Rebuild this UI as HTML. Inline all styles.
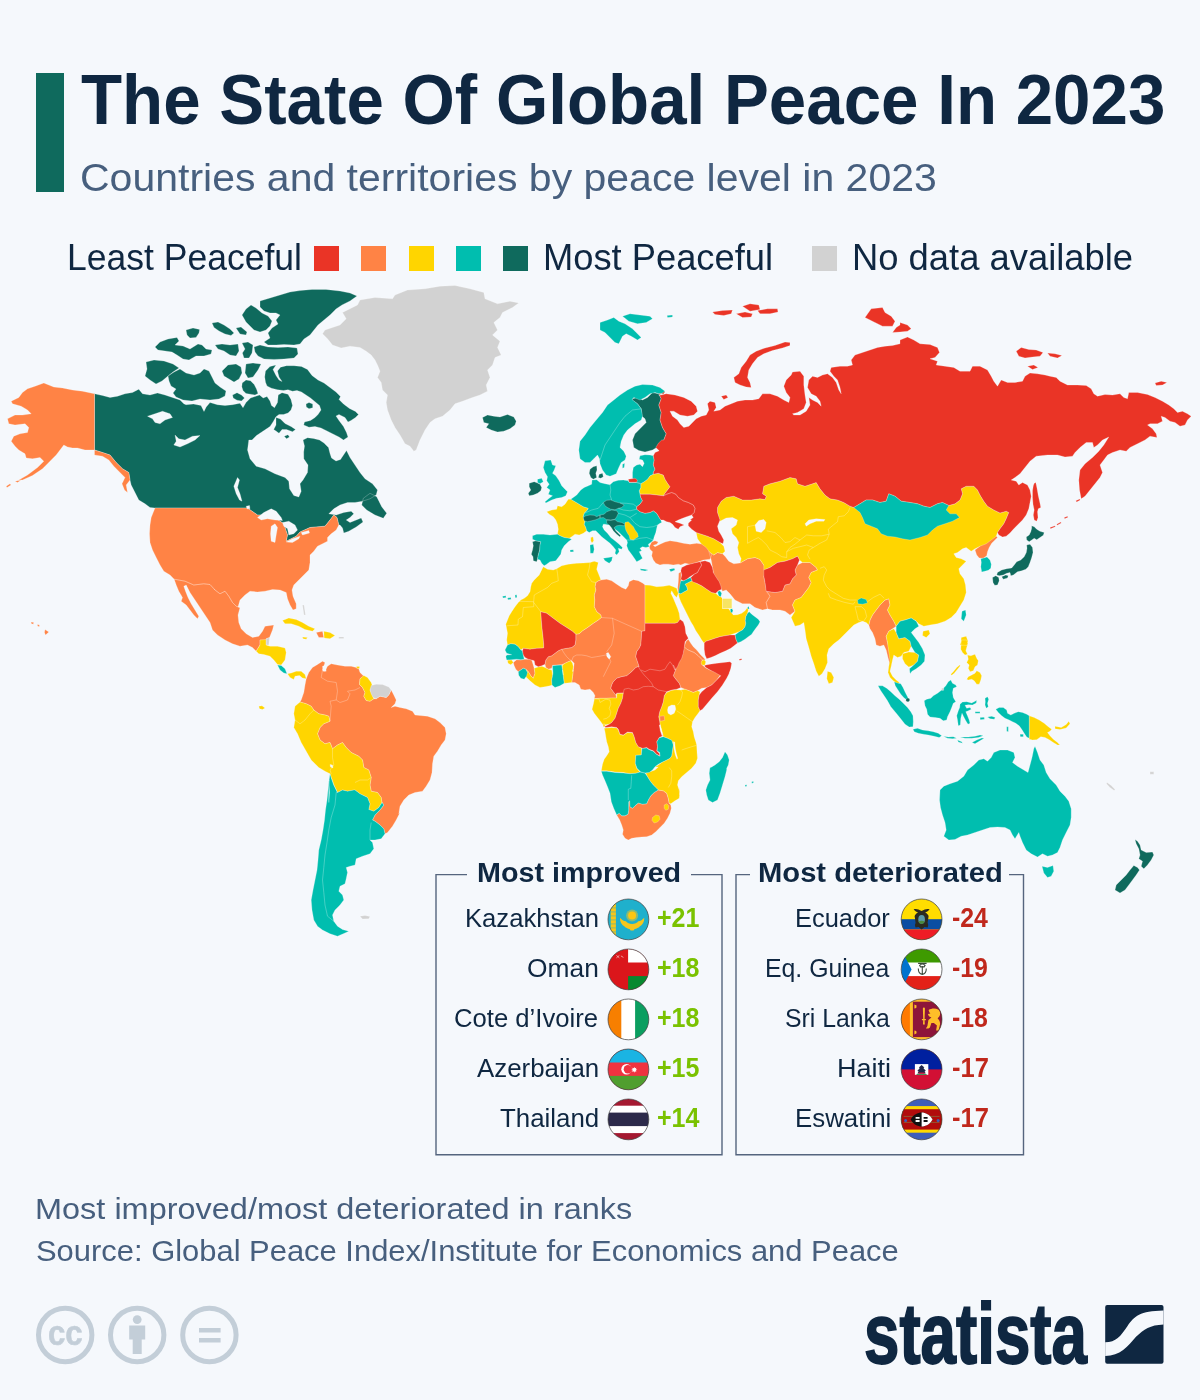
<!DOCTYPE html>
<html lang="en">
<head>
<meta charset="utf-8">
<title>The State Of Global Peace In 2023</title>
<style>
html,body{margin:0;padding:0;background:#f5f8fc;}
body{width:1200px;height:1400px;background:#f5f8fc;position:relative;overflow:hidden;font-family:"Liberation Sans",sans-serif;color:#0f2741;}
.abs{position:absolute;white-space:nowrap;line-height:1;transform-origin:0 0;}
#bar{position:absolute;left:36px;top:73px;width:28px;height:119px;background:#0f6a5d;}
.sq{position:absolute;top:246px;width:25px;height:25px;}
#map,#over{position:absolute;left:0;top:0;width:1200px;height:1400px;}
#logo{-webkit-text-stroke:1.8px #0f2741;}
#cc{-webkit-text-stroke:0.6px #c3ced8;}
</style>
</head>
<body>
<svg id="map" viewBox="0 0 1200 1400">
<g stroke="#ffffff" stroke-opacity="0.4" stroke-width="0.6" stroke-linejoin="round">
<path fill="#0F6A5D" d="M94.5,393.8 102.5,395.5 110,397.5 117.5,396.2 125,393.8 132.5,392.5 138.8,389.2 142.5,393.8 150,395 157.5,393 165,395 172.5,397.5 180,400 183.8,403.8 186,404.7 193.5,404 201,405.5 204,411.5 206.2,407 210,402.5 217.5,404.7 225,405.5 232.5,404.7 240,403.2 243,407.7 246,402.5 250.5,398 255,396.5 259.5,395 263.2,398 267,396.5 270,401 271.5,405.5 274.5,407.7 277.5,402.5 278.2,395 282,392.7 288,394.2 291,399.5 292.5,405.5 291,410 288,413 283.5,414.5 279,414.5 276,416.7 273,422 270,426.5 265.5,429.5 261,432.5 256.5,435.5 252,440 248.8,440 247.5,450 250,458.8 256.2,466.2 265,468.8 275,473.8 285,477.5 288.8,481.2 289.5,488.8 293.8,495.5 298.8,497 301.2,491.2 300,483.8 303,480 307.5,472.5 308,465 303.8,458.8 303.7,452 304.5,446 303,440 307.5,437.7 313.5,438.5 319.5,440 324,443 328.5,447.5 330,453.5 331.5,458 336,461 340.5,459.5 343.5,455 346.5,450.5 350,457.5 355,465 360,472.5 365,478.8 372.5,483.8 377.5,490 376.2,495 370,498.8 362.5,501.2 355,502.5 347.5,502.5 340,505 333.8,508.8 328.8,513.8 336.2,515 343.8,512.5 351.2,511.2 353.8,513.8 350,517.5 346.2,520 350,522.5 355,520.5 361.2,518 363,522 356.2,527 348.8,531.2 343.8,533 342.5,528 340,525 338.8,525 337,517.5 333.8,515 330,520 325,526.2 310,527.5 300,532 296.2,536.2 286.2,541.2 287.5,535 283.8,523.8 271.2,515 257.5,515 247.5,508 200,508 155,508 150,507.5 145,503.8 138.8,500 135,492.5 131.2,485 130,480 128.8,472.5 122.5,468.8 116.2,462.5 110,455 102.5,452.5 94.5,450ZM482.5,417.5 487.5,415 493.8,416.2 500,417 507.5,414.5 513.8,417 516.2,421.2 515,425 510,428.8 503.8,431.2 497.5,432 491.2,430 486.2,427.5 488.8,423.8 483.8,422.5ZM260,301 270,298 280,295 290,292 300,290.6 312,289.4 326,289.4 340,291 350,293 357,296 350,301 342,305 336,309 330,315 324,320 318,325 314,330 310,335 304,339 300,344 294,345 284,344.6 276,345 268,345 264,342 270,338 268,333 272,328 278,324 276,320 280,315 276,313 270,313 264,311 260,307ZM242,315 246,309 251,305 256,308 262,313 268,316 272,321 270,326 266,330 260,332 254,330 250,326 246,322ZM254,347 260,345 268,347 278,347.4 288,347 297,348 298,354 294,358 284,359 274,359.4 264,359 258,356 255,352ZM212,323 218,322 224,325 230,329 234,333 231,335.4 225,334 219,331 214,327.4ZM236,328 241,327 247,332 246,335 240,334ZM186,330 193,328 199.6,329.4 199,333 196,337.4 190,338 187,335ZM155,347 160,342 168,339 177,337.4 179,341 175,345 183,346 190,349 198,344 202,345 206,349 212,350 211,354 204,356 196,356 189,360 183,359 177,355 172,352 165,351 158,350ZM215,345 222,344 230,345 238,344 239,351 236,356 230,355 224,351 218,349ZM242,343 248,342 253,345 252,353 249,358 244,358 242.4,353 245,349ZM146,362 154,360 164,361 173,364 179,368 173,372 168,376 162,381 156,384 150,380 145,376 147,369ZM168,376 174,372 180,369 186,373 194,375 200,373 204,369 209,371 212,377 215,383 220,387 226,391 225,396 219,399 210,400 200,399 192,401 183,400 176,397 173,393 176,389 171,386 169,381ZM222,371 228,365 236,364 241,367 242,373 239,379 234,382 229,379 224,376ZM246,364 253,363 261,364 258,370 253,377 248,378 245,373ZM363.3,498.3 370,493.3 376.7,496.7 381.7,506.7 386.7,513.3 383.3,518.3 375,515 366.7,510 361.7,505ZM264.7,377 265.5,371 270,366.5 276,365 273,369.5 276,375.5 279,380 282,381.5 279,377 277.5,371 280.5,367.2 286.5,365.7 294,365.7 301.5,366.5 307.5,369.5 312,375.5 318,380 324,383 330,387.5 336,392 340.5,396.5 339,399.5 343.5,404 349.5,408.5 355.5,411.5 358.5,414.5 355.5,417.5 351,420.5 348,422 345,417.5 339,414.5 336,416 339,420.5 343.5,426.5 346.5,432.5 348,437 343.5,440 339,437 333,434 327,431 321,428 315,426.5 309,427.2 303.7,425 304.5,422 310.5,420.5 315,417.5 318,414.5 321,410 319.5,405.5 315,401.7 310.5,398 306,395 301.5,392 297,390.5 292.5,391.2 288,389.7 283.5,390.5 277.5,389.7 271.5,388.2 267,386 265.5,382.2ZM306,404 309,402.5 312.7,404 312.7,407.7 309,408.8 306.3,407ZM276,417.5 280.5,419 285,423.5 291,426.5 295.5,429.5 292.5,431.7 286.5,429.5 282,429.5 279,433.2 276,431 273.7,429.5 276,425ZM284.2,436.2 288,434.7 289.5,437 286.5,438.8ZM232.5,395 237,392.7 241.5,395 244.5,398 241.5,401 237,400.2 233.2,398ZM242.2,383 246,380 250.5,380.7 254.2,384.5 256.5,389 258,393.5 255,395 250.5,394.2 246,393.5 243,390.5 241.8,386.7ZM632.5,398.8 637.5,397.5 642.5,400 647.5,397.5 652.5,392.5 658.8,393.8 661.2,398.8 658.8,405 661.2,412.5 660,420 662.5,427.5 666.2,433.8 663.8,440 658.8,446.2 652.5,450 645,452 638.8,450.5 633.8,447.5 632.5,440 635,433.8 641.2,427.5 646.2,422.5 645,418.8 642,416.2 641.2,408.8 637.5,403.8 632,400ZM590,469.2 593.3,466.7 596.7,465.8 597,470 595.8,473.3 596.7,477.5 593.3,479.2 590.8,477.5 589.2,473.3ZM599.2,474.2 602.5,473.3 603.3,476.7 600.8,478.3 598.3,477.5ZM529.2,483.3 534.2,481.7 537.5,483 540,484.2 541.7,487.5 540.8,490.8 537.5,493.3 533.3,495 529.2,495.8 528.3,493.3 530.8,490 529.2,486.7ZM532.5,541.7 535.8,540.8 540.8,541.7 540,545 539.7,550 538.3,555 537.5,559.2 536.7,561.7 533.3,560.8 533,556.7 531.3,554.2 532.5,550 533.3,545.8ZM1031.7,525.8 1034.2,526.7 1036.7,529.2 1040,531.3 1044.2,532.5 1043.3,535.3 1040,537.5 1036.7,539.7 1034.2,538.3 1031.7,540 1029.2,541.7 1026.7,540 1026.3,537 1029.2,535 1030.8,531.7 1031.7,528.3ZM1026.7,545 1030,544.2 1032.5,547.5 1033,552.5 1031.7,557.5 1030,562.5 1028.3,566.7 1025.8,569.2 1021.7,570.8 1017.5,571.7 1013.3,575 1010.8,575.8 1010,572.5 1006.7,573.3 1003.3,575 999.2,575.8 996.7,575 997.5,572.5 1001.7,570 1006.7,568.7 1011.7,568 1014.2,565 1016.7,561.7 1020.8,560 1024.2,556.7 1026.3,552.5 1027,548.3ZM992.5,577.5 995.8,575.8 998.7,577.5 999.2,580.8 997.5,585 994.7,585.3 993,582.5ZM1001.7,576.7 1005.8,575 1008.3,575.8 1007.5,578 1003.3,579.2ZM1135,839.5 1137.5,841.2 1140,845 1141.2,850 1146.2,852.5 1152.5,852 1153.8,855 1151.2,860 1147.5,865 1143.8,868.8 1141.2,866.2 1142.5,861.2 1138.8,858.8 1140,855 1138.8,848.8 1136.2,843.8ZM1133.8,865.5 1137.5,867.5 1139.5,870 1136.2,875 1132.5,880 1128.8,885 1125,890 1120,893 1115,890 1116.2,885 1121.2,880 1126.2,875 1130,870Z"/>
<path fill="#FF8345" d="M94.5,393.8 82.5,391.2 72.5,390 62.5,388 53.8,387 43.8,383 35,386.2 27.5,388.8 22.5,392.5 18.8,397.5 11.2,401.2 12.5,403.8 21.2,406.2 27.5,410 31.2,413.8 22.5,415 15,415 7.5,418.8 8.8,423.8 15,425 25,423.8 28.8,427.5 27.5,432.5 20,433.8 13.8,436.2 11.2,441.2 15,446.2 18.8,450 25,453.8 26.2,458 32.5,458.8 40,457.5 43.8,461.2 37.5,467.5 27.5,475 18.8,480 22.5,480 32.5,475.5 42.5,468.8 50,461.2 56.2,455 60,450 63.8,445 67.5,447 72.5,448 77.5,448 85,450 94.5,450 102.5,452.5 110,455 116.2,462.5 122.5,468.8 128.8,472.5 130,480 126.2,485 127.5,492.5 124.5,490 122,483.8 123.8,480 125,477.5 120,472.5 113.8,466.2 108.8,460 102.5,456.2 94.5,455 94.5,450ZM155,508 151.2,517.5 150,525 149.5,533.8 150,542.5 152.5,550 156.2,557.5 160,565 163.8,571.2 170,575 174.2,579.2 185,581.2 193.8,585 203.8,583.8 210,584.5 215,590 220,593.8 225,591.2 228.8,596.2 232.5,602.5 236.2,606.2 240,607.5 238,607 240,600 245,595 250,591.2 257.5,592 265,591.2 272.5,589.5 280,590 286.2,592.5 287.5,598.8 290,605 293,610 296.2,608.8 296.2,603.8 293,596.2 292,590 293.8,585 298.8,580 303.8,575 308.8,570 310,562.5 310,555 313.8,551.2 317.5,546.2 322.5,543.8 327.5,541.2 327.5,537.5 331.2,533.8 336.2,530 338.8,525 337,517.5 333.8,515 330,520 325,526.2 310,527.5 300,532 296.2,536.2 286.2,541.2 287.5,535 283.8,523.8 271.2,515 257.5,515 247.5,508 200,508ZM174.2,579.2 185,581.2 193.8,585 203.8,583.8 210,584.5 215,590 220,593.8 225,591.2 228.8,596.2 232.5,602.5 236.2,606.2 240,607.5 238,615 238.8,622.5 241.2,628.8 246.2,633.8 252.5,637.5 258.8,636.2 262.5,631.2 265,626.2 273.8,625 272.5,630 269.5,637.5 266.2,638.8 266.2,640 260,640 260,645 256.2,651.2 252.5,647.5 247.5,645 240,646.2 232.5,643.8 225,640 217.5,635 212.5,630 210,622.5 205,615 200,607.5 195,600 190,592.5 186.2,585 183.8,586.2 185.5,591.2 188,597.5 191.2,603.8 195,610 198.8,616.2 197.5,618.8 193.8,615 190,610 186.2,605 181.2,601.2 182.5,597.5 178.8,591.2 176.2,585ZM316.2,632.5 322.5,631.2 323.8,637.5 318.8,637.5ZM31.2,622 33.8,622.5 33.2,624.2 31.2,623.5ZM37.5,624.5 39.5,625 39.2,626.8 37.5,626ZM45,629.5 48.8,632 45.5,635 44.5,632.5ZM6.2,486.2 10,483.8 11,485 7,487.5ZM15,481.2 21.2,480 17.5,482.5ZM306.2,678.8 308.8,672.5 312.5,667.5 317.5,664.5 322.5,661.2 325,662.5 323.8,666.2 322.5,670 325,671.2 327.5,666.2 331.2,663.8 337.5,665 345,666.2 351.2,666.2 356.2,667.5 358.8,668.8 360,672.5 363.8,676.2 360,678.8 359.5,684.5 362.5,687.5 365,692.5 363.8,696.2 366.2,700.5 370,701.2 373.8,698.8 376.2,698.8 380,696.2 386.2,697.5 388.8,695 391.2,690 393.8,695 396.2,700 395,703.8 391.2,707.5 395,706.2 400,707.5 406.2,708.8 412.5,711.2 415,715 420,715.5 427.5,716.2 435,718.8 440,722.5 445,727.5 446.2,733.8 445,740 441.2,745 437.5,751.2 433.8,756.2 432.5,763.8 432,772.5 430,780 426.2,786.2 422.5,791.2 415,792.5 408.8,795 403.8,800 400,806.2 398.8,813.8 400,812.5 396.2,820 392.5,826.2 387.5,832.5 385,833.8 383.8,828.8 380,825 375,821.2 372.5,820 375,815 380,810 383.8,805 382,802.5 382,803.8 381.2,797.5 377.5,792.5 371.2,791.2 370,785 371.2,777.5 368.8,770 363.8,767.5 362.5,760 358.8,756.2 351.2,752.5 346.2,747.5 342.5,742.5 337.5,745 332.5,748.8 330,742.5 325,743.8 320,740 317.5,733.8 320,727.5 323.8,723.8 330,721.2 328.8,716.2 325,715 318.8,713.8 313.8,710 311.2,706.2 306.2,703.8 300,702 301.2,700 303.8,692.5 305,685ZM649.2,546.7 651.7,542 655,540.8 658.3,542 656.7,544.2 653.3,545.3 655,546.7 660,544.2 665,542 670,540.8 676.7,541.7 683.3,543.3 690,544.2 696.7,543.3 703.3,544.2 708.3,547.5 710,551.7 711.7,555 710,559.2 703.3,560 696.7,562.5 690,564.2 685,563.3 680.8,565 678.3,564.2 673.3,565 668.3,564.2 663.3,564.2 660,565 655.8,563.3 653.3,560 651.7,555.8 652.5,551.7 650,549.2ZM708.8,551.2 713.8,555 717.5,552.5 722.5,553.8 725,556.2 728.8,561.2 733.8,563.8 740,563 747.5,558.8 755,557.5 760,559.5 763.8,565 766.2,570 763.8,576.2 765,582.5 766.2,590 770,596.2 766.2,602.5 767.5,608.8 762.5,610 755,607.5 750,603.8 742.5,603.8 735,600 730,593.8 726.2,590 722.5,591.2 720,586.2 717.5,580 713.8,575 712.5,567.5 711.2,560ZM766.2,591.2 775,592.5 782.5,591.2 785,585 790,583.8 792.5,578.8 796.2,575 795,570 797.5,565 802.5,562.5 810,562.5 816.2,567.5 817.5,570 811.2,572.5 808.8,577.5 811.2,582.5 808.8,587.5 805,592.5 801.2,597.5 795,600 792.5,605 795,611.2 790,615 785,611.2 780,610 772.5,610 767.5,608.8 766.2,602.5 770,596.2ZM975,550 979.2,546.7 983.3,543.3 987.5,541.7 991.7,538.3 995.8,535.8 997.5,537.5 995,540 991.7,543.3 989.2,547.5 987.5,551.7 986.7,555.8 983.3,558.3 979.2,558 976.7,555ZM868.8,625 870,620 872.5,615 876.2,610 880,605 885,600 888.8,598.8 890,605 887.5,610 890,615 893.8,621.2 896.2,626.2 892.5,628.8 888.8,631.2 886.2,636.2 887.5,642.5 888.8,648.8 890,655 891.2,662.5 890,665 888,657.5 886.2,650 883.8,645 880,646.2 876.2,645 875,638.8 872.5,632.5 870,628.8ZM678.7,573.3 681,571.7 681.3,579.2 680.7,583.7 679.7,588.7 678.3,593 677.7,588.3 678.3,581.7ZM513.3,662.5 516.7,659.7 520.8,660 524.2,659.2 528.3,659.2 531.7,660 533,664.2 534.2,668.3 535,673.3 533.3,678.3 530.8,675.8 528.3,671.7 525.8,669.2 523.3,668.3 520.8,670 518.3,671.7 515.8,669.2 514.2,665.8ZM600.8,580 606.7,579.2 611.7,580.8 616.7,584.2 621.7,587.5 625.8,589.2 628.3,585.8 629.2,581.7 633.3,579.7 638.3,580.8 642.5,583 645,585 645,623.3 645,630.8 641.7,631.3 641.3,638.3 640.8,645 639.2,648.3 636.7,651.7 635.8,656.7 637.5,661.7 639.2,666.7 638.3,666.7 635.8,667.5 631.7,671.7 626.7,675.8 621.7,676.7 616.7,678.3 613.3,681.7 611.7,685 610.8,688.3 613.3,691.7 615.8,695 616.7,698 611.7,698 606.7,698.3 600,698.3 594.2,698.7 595,695.8 593.3,692.5 590,689.2 585,690 580.8,689.2 579.2,685 575,682.5 571.7,682.5 572.5,676.7 573.3,670 574.2,663.3 571.7,660.8 570.8,660.8 568.3,661.7 565,663.3 561.7,664.7 556.7,665 552.5,665.3 551.7,668.3 548.3,669.2 545.8,667.5 545,664.2 545.8,660 548.3,656.7 551.7,655.8 555,653.3 558.3,650.8 561.7,649.2 566.7,648.3 571.7,647.5 575,645 575.8,640 575.8,634.2 579.2,633.7 582.5,630.8 587.5,627.5 593.3,623.3 598.3,620 601.3,617.5 600.8,615 596.7,611.7 594.2,606.7 594.7,600 594.2,595 595.8,590 595,586.7 595.8,582.5 598.3,580.8ZM684.2,646.7 685.8,641.7 688.3,639.2 690.8,643.3 693.3,646.7 696.7,650 700.8,655 704.2,658.3 705.3,660 702.5,660 698.3,655.8 694.2,652.5 690,650.8 686.7,649.2ZM683.3,651.7 684.2,646.7 686.7,649.2 690,650.8 694.2,652.5 698.3,655.8 702.5,660 701.7,664.2 705,667.5 710,670 716.7,672.5 721.7,673.3 716.7,680 711.7,685 706.7,687.5 701.7,688.3 697.5,690.8 693.3,692.5 689.2,690.8 685,689.2 680.8,687.5 679.2,683.3 675.8,679.2 673.3,675.8 674.2,673.3 675.8,669.2 673.3,665 675,668.3 677.5,664.2 679.2,660 681.7,656.7ZM616.7,815 619.2,813.3 621.7,815.8 625,815.8 628,814.2 628.7,810 628.7,801.7 629.7,800.8 630,806.7 632.5,808.3 635,805.8 638.3,803 642.5,804.2 646.7,803.7 648.3,800 650.8,795.8 654.2,792.5 658.3,790 663.3,790.8 666.7,793.3 668.3,798.3 669.2,803.3 670.8,805 671.3,808.3 670,813.3 667.5,818.3 664.2,823.3 660,827.5 655.8,831.7 651.7,835 646.7,836.7 641.7,837 636.7,837.5 631.7,838.3 628.3,840 625,838.3 622.5,834.2 623.3,830 621.7,825 619.7,820Z"/>
<path fill="#FFD500" d="M256.2,651.2 260,645 260,640 266.2,639.5 266.2,645 270,646.2 277.5,646.2 285,648 286.2,652.5 285,660 281.2,665 277.5,664.5 273.8,660 270,656.2 263.8,654.5 258.8,653.8ZM282.5,620.5 288.8,618 296.2,619.5 302.5,622.5 308.8,626.2 315,628.8 312.5,631.2 305,629.5 298.8,626.2 291.2,623.8 285,623.8ZM323.8,631.2 330,632.5 335,635.5 330,638.8 324.2,638ZM302.5,637 307.5,637.5 306.2,639.2 303,638.8ZM287.5,673.8 291.2,673 296.2,671.2 301.2,671.2 305,674.5 306.2,678.8 302.5,678 299.5,675.5 295,676.2 293.8,679.5 290,677.5ZM360,678.8 363.8,675.5 367.5,677.5 371.2,682.5 372.5,686.2 370,690 372.5,695 373.8,698.8 370,701.2 366.2,700.5 363.8,696.2 365,692.5 362.5,687.5 359.5,684.5ZM300,702 306.2,703.8 311.2,706.2 313.8,710 318.8,713.8 325,715 328.8,716.2 330,721.2 323.8,723.8 320,727.5 317.5,733.8 320,740 325,743.8 330,742.5 332.5,748.8 337.5,745 342.5,742.5 346.2,747.5 351.2,752.5 358.8,756.2 362.5,760 363.8,767.5 368.8,770 371.2,777.5 370,785 371.2,791.2 377.5,792.5 381.2,797.5 382,803.8 382,802.5 378.8,807.5 373.8,811.2 368.8,809.5 370,803.8 367.5,797.5 360,793.8 355,790 347.5,791.2 342.5,790 337.5,792.5 333.8,785 331.2,777.5 330,773.8 325,771.2 318.8,767.5 311.2,760 306.2,751.2 301.2,742.5 297.5,733.8 293.8,727.5 295,720 293.8,713.8 295,706.2ZM258.8,706.2 262,705.8 265,708 262.5,709.5 259.5,708.8ZM356.5,666.5 359.5,666.5 359.5,668.5 356.8,668.5ZM590.8,537.5 593,536.7 593.7,540.8 592,543 590.8,540.8ZM640.8,483.7 644.2,481.7 647.5,479.2 650,475.8 653.3,474.2 658.3,473.3 663.3,475 665,479.2 667.5,483.3 670,486.7 667.5,490 665,493.3 663.3,495.8 656.7,495 650,494.2 644.2,494.2 640,494.2 639.2,490.8 640.8,487.5ZM546.7,511.7 551.7,510 556.7,509.2 557.5,505.8 561.7,506.7 565,504.2 568.3,499.2 570.8,499.2 575,501.7 579.2,504.2 583.3,506.7 588.3,508.3 587.5,510 584.2,513.3 583.3,516.7 584.2,520 585,521.7 584.2,524.2 585.8,527.5 586.7,530.8 583.3,533.3 579.2,535 575,534.2 571.7,536.7 569.2,538.3 564.2,537.5 560,535.8 557.5,534.2 558.3,529.2 557.5,524.2 555.8,520 553.3,516.7 549.2,514.2ZM717.5,507.5 721.2,501.2 726.2,497.5 733.8,496.2 742.5,500 751.2,500 760,498.8 765,499.5 766.2,496.2 762.5,493.8 763.8,486.2 770,483.8 780,481.2 790,477.5 796.2,478.8 797.5,483.8 805,486.2 812.5,483.8 816.2,482.5 820,488.8 825,495 830,498.8 837.5,500 843.8,502.5 850,506.2 853.8,507.5 860,503.8 866.2,500 872.5,500 880,502.5 886.2,501.2 888.8,493.8 895,496.2 901.2,501.2 910,502.5 917.5,503.8 923.8,506.2 930,507.5 937.5,503.8 942.5,502.5 948.8,505.5 948.8,505.5 955,503.8 960,500 962.5,493.8 961.2,488.8 966.2,486.2 973.8,486.2 977.5,490 980,495 983.8,501.2 987.5,506.2 993.8,510 1000,513 1006.2,511.2 1008.8,512.5 1006.2,518.8 1003.8,523.8 1000,528.8 997.5,532.5 996.2,536.2 991.2,540 986.2,543.8 980,546.2 975,548.8 971.2,551.2 966.2,547.5 962.5,548.8 957.5,552.5 953.8,553.8 956.2,557.5 961.2,558.8 966.2,561.2 962.5,565 958.8,568.8 960,573.8 963.8,578.8 965.5,585 966.2,592.5 963.8,600 960,606.2 956.2,612.5 951.2,617.5 945,621.2 937.5,623.8 930,625 923.8,626.2 918.8,623.8 915,620 918.8,626.2 916.2,621.2 911.2,618 905,620 900,621.2 896.2,626.2 893.8,621.2 890,615 887.5,610 890,605 888.8,598.8 885,600 880,605 876.2,610 872.5,615 870,620 868.8,625 866.2,622.5 862.5,621.2 858.8,622.5 853.8,625 848.8,630 843.8,635 838.8,640 833.8,643.8 828.8,648.8 827,655 827.5,662.5 825,668.8 822,673.8 818.8,676.2 816.2,671.2 813.8,663.8 811.2,656.2 808.8,647.5 806.2,638.8 805,630 803.8,622.5 800,625 795,626.2 791.2,617.5 795,611.2 792.5,605 795,600 801.2,597.5 805,592.5 808.8,587.5 811.2,582.5 808.8,577.5 811.2,572.5 817.5,570 816.2,567.5 810,562.5 802.5,562.5 799.5,560 797.5,556.2 792.5,558.8 785,561.2 777.5,562.5 770,567.5 763.8,570 763.8,565 760,559.5 755,557.5 747.5,558.8 740,563 741.2,558.8 738.8,553.8 737.5,547.5 738.8,542.5 736.2,537.5 732.5,533.8 731.2,528.8 736.2,525 737.5,520 732.5,517.5 726.2,518 720,521.2 717.5,512.5ZM696.2,532.5 700,533.8 707.5,536.2 713.8,538.8 720,542.5 723.8,546.2 725,551.2 722.5,553.8 717.5,552.5 713.8,555 710,552.5 706.2,547.5 701.2,543.8 697.5,538.8ZM923,631.2 928.8,630 930,633.8 926.2,637.5 922.5,635.5ZM827.5,671.2 831.2,672.5 833.8,677.5 832.5,682.5 828.8,683.8 826.8,678.8ZM888.8,631.2 893.8,628.8 896.2,632.5 898.8,638.8 905,637.5 910,641.2 911.2,646.2 908.8,651.2 903.8,652.5 901.2,656.2 897.5,657.5 893.8,655 892.5,660 891.2,666.2 890,671.2 892.5,676.2 896.2,680 899.5,682.5 897.5,683.8 893.8,681.2 890,677.5 888,672.5 888.8,666.2 890,660 888.8,652.5 887.5,642.5 886.2,636.2ZM902.5,653.8 908.8,652 915,652.5 918.8,655 917.5,661.2 913.8,665 908.8,667 905,663.8 902.5,658.8ZM1029.2,715.8 1034.2,717.5 1039.2,720 1044.2,723.3 1048.3,726.7 1051.7,729.2 1050,731.3 1047.5,732.5 1050,735.8 1053.3,739.2 1057.5,742.5 1060,745 1057.5,745 1053.3,742.5 1049.2,739.7 1045,737.5 1040.8,736.7 1036.7,739.7 1032.5,740 1029.2,739.2ZM1055,726.2 1061.2,727.5 1066.2,724.5 1068.8,721.2 1070,723.8 1066.2,728 1060,729.5 1055,728.8ZM960,645 961.7,640 966.7,640 968,643.3 966.7,647.5 965.8,650.8 967.5,654.2 965,655 962.5,652.5 960.8,649.2 961.2,637.5 966.2,636.2 968,641.2 967,645.5ZM967.5,655 970.8,655.8 975,654.2 976.7,658.3 978.3,660.8 977.5,665 975,666.7 973.3,670.8 970,671.7 968.3,668.3 969.2,665 966.7,662.5 968.3,659.2ZM966.7,679.2 968.3,676.7 971.7,675 975,673.3 976.7,670.8 980,672.5 981.7,675.8 980.8,680 979.2,684.2 976.7,684.2 974.2,680.8 971.7,679.2 968.3,680ZM950.8,674.2 953.3,671.7 956.7,667.5 959.7,665 960.3,665.8 957.5,669.2 954.2,673.3 951.7,675.3ZM678.3,593.3 680.8,593.7 684.2,591.7 687.5,590 686.7,586.7 685,584.2 688.3,582.5 692,580.8 696.7,583.3 701.7,585.8 706.7,589.2 711.7,592.5 715.8,593.3 718.3,595.8 720.8,596.7 723.3,599.2 725.8,603.3 728.3,608.3 730.8,611.7 733.3,615 737.5,614.7 741.7,613.3 745,610.8 747.5,607.5 748.3,610 747.5,613.3 745.8,616.7 745.3,620.8 745.8,623.3 745,626.7 742.5,630 739.2,631.7 735,633.3 730,635 725,635.8 720,636.7 715,638.3 710,640 705.8,641.3 704.2,643.3 701.7,640 699.2,635.8 695.8,630.8 693.3,625.8 690.8,621.7 688.3,616.7 685.8,611.7 683.3,606.7 680.8,601.7 679.2,597.5ZM543.3,566.7 547.5,569.2 553.3,570 556.7,568.7 561.7,565.8 568.3,564.2 576.7,563.3 583.3,563 590,562.5 594.2,561.3 598.3,562.5 597.5,565.8 596.7,569.2 598.3,573.3 600,577.5 600.8,580 598.3,580.8 595.8,582.5 595,586.7 595.8,590 594.2,595 594.7,600 594.2,606.7 596.7,611.7 600.8,615 601.3,617.5 598.3,620 593.3,623.3 587.5,627.5 582.5,630.8 579.2,633.7 575.8,634.2 572.5,631.3 566.7,627.5 560,623.3 553.3,618.3 546.7,613.3 540.8,611.7 541.3,620 542,628.3 543,636.7 543.7,644.2 543.7,648 536.7,648.3 530,649.2 523.3,648.3 520.8,650 518.3,646.7 515,644.2 510.8,643.7 507.5,645 506.7,640 507.5,633.3 506.3,626.7 505.8,624.2 507.5,620 509.2,615.8 511.7,611.7 515,606.7 518.3,602.5 520.8,600 524.2,598.3 527.5,595.8 530,591.7 530.8,586.7 531.7,583.3 534.2,580 536.7,577.5 539.2,575 540.8,571.7 542.5,568.3ZM507.5,660.3 511.7,660 513.3,662.5 510.8,664.7 508,663.3ZM527.5,672.5 525.8,669.2 528.3,671.7 530.8,675.8 533.3,678.3 535,673.3 534.2,668.3 538.3,667 541.7,666.3 545,667.5 548.3,669.2 551.7,670 552.5,675 552.5,669.2 553,673.3 551.7,680 552,685 550,685.8 545,686.7 540,687.5 535,685 530,680.8 525.8,676.7 523.3,673.3ZM562.5,665 565,663.3 568.3,661.7 570.8,660.8 572.5,663.3 573.3,666.7 572.5,671.7 573.3,670 572.5,676.7 571.7,682.5 565,683.3 564.2,683.3 563.3,676.7 562.5,670 562.2,666.7ZM645,585 650,585.3 656.7,586.7 663.3,586.3 669.2,585.3 673.3,586.7 676.7,588.3 678.3,593.3 676.7,597.5 674.2,595 671.7,590.8 670.8,593.3 673.3,598.3 675.8,604.2 677.5,608.3 679.2,613.3 680,619.2 677.5,622.5 675,623.3 645,623.3ZM701.7,660.8 704.2,659.7 705.8,661.7 705,665 702.5,665.3 701.2,663.3ZM594.2,698.7 600,698.3 606.7,698.3 611.7,698 616.7,698 616.7,693.3 623.3,693 622.5,698.3 620.8,703.3 618.3,708.3 616.7,713.3 615,718.3 611.7,722.5 609.2,724.2 604.2,725 603,725 600.8,721.7 597.5,717.5 594.2,713.3 592,709.2 593.3,704.2 594.2,700ZM664.2,695.8 666.7,692.5 671.7,690.3 676.7,689.7 680.8,690 685,689.2 689.2,690.8 693.3,692.5 697.5,690.8 700,691.7 699.2,695 698.3,700 698.3,706.7 700,710.8 697.5,714.2 695,717.5 692.5,721.7 691.7,726.7 693.3,731.7 694.2,736.7 695.8,741.7 696.7,745 697,751.7 697.5,758.3 695.8,763.3 691.7,768.3 686.7,772.5 681.7,776.7 678.3,780.8 677.5,785 679.2,790 679.7,795 679.2,786.7 680,791.7 679.2,798.3 675,800.8 670.8,803.7 669.2,803.3 668.3,798.3 666.7,793.3 663.3,790.8 658.3,790 656.7,788.3 653.3,785 650,780.8 647.5,776.7 645.8,773.3 650,771.7 655,770 658.3,767 655,767 658.7,764.7 662.5,762 666.7,760 670,758.3 671.7,755.8 672.5,750 673.3,745 671.7,740.3 667.5,738.3 663.3,736.7 663,735.8 661.7,731.7 660.3,726.7 659.7,721.7 658.7,716.7 659.7,711.7 661.7,706.7 663.3,701.7ZM604.2,728.3 611.7,727.5 616.7,728 618.3,730 620,734.7 623.3,735.3 627.5,732.5 632.5,733 634.2,736.7 635.8,742.5 638.3,746.7 641.7,748.3 641.3,755 635.8,755.3 635.3,763.3 636.7,768.3 640,772 635.8,773.3 630,773.7 623.3,772.5 615,772 606.7,770.8 601.3,770.8 602.5,764.2 604.2,759.2 606.7,755.8 609.2,751.7 608.3,746.7 606.7,741.7 605.8,736.7 605,731.7ZM602.7,724 605,724 605.3,726.3 603.3,726.7Z"/>
<path fill="#D2D2D2" d="M266.2,638.8 269.5,637.5 268.8,645 266.2,645ZM338.8,637 343.8,637 343.8,638.5 338.8,638.5ZM302.5,605 304,605 305.5,615 304,615ZM360,300 375,297.5 392.5,298.8 395,295 407.5,290 425,288.8 440,286.2 455,285.5 470,288.8 483.8,292.5 485,298.8 497.5,303.8 510,301.2 518.8,303 512.5,307.5 502.5,312.5 500,317.5 493.8,322.5 497.5,330 492.5,335 500,341.2 497.5,347.5 501.2,355 495,357.5 492.5,365 487.5,370 490,377.5 486.2,385 487.5,391.2 480,395 472.5,397.5 462.5,401.2 455,403.8 450,410 442.5,416.2 435,418.8 430,422.5 425,430 420,440 416.2,450 413.8,451.2 410,446.2 405,443.8 400,435 395,427.5 391.2,420 387.5,410 386.2,402.5 387.5,395 382.5,390 381.2,382.5 377.5,377.5 380,371.2 377.5,365 375,360 371.2,355 366.2,351.2 360,347.5 350,346.2 341.2,348 332.5,345 327.5,338.8 322.5,333.8 325,330 332.5,327.5 340,325 346.2,318.8 342.5,312.5 350,308.8 357.5,305ZM371.2,685.5 376.2,684.2 382.5,684.5 388.8,687 391.2,690 388.8,695 386.2,697.5 380,696.2 376.2,698.8 373,697.5 371.2,693.8 370,690ZM360,916.2 365,915.5 370,916.5 368.8,918.8 362.5,919ZM1107,782.5 1111.2,785.5 1115,789.5 1114.2,790.5 1110,787.5 1106.5,783.8ZM1150,771.8 1153.8,771.8 1153.8,774.2 1150,774.2Z"/>
<path fill="#00BEAF" d="M277.5,665 281.2,665.5 285,668.8 287,673.8 283.8,673 280,670ZM330,773.8 331.2,777.5 333.8,785 337.5,792.5 342.5,790 347.5,791.2 353.8,790 355,790 360,793.8 367.5,797.5 370,803.8 368.8,809.5 373.8,811.2 378.8,807.5 382,802.5 383.8,805 380,810 375,815 372.5,820 375,821.2 380,825 383.8,828.8 385,833.8 381.2,838.8 375,840 370,840 372.5,842.5 373.8,848.8 370,853.8 362.5,856.2 356.2,858.8 355,865 350,866.2 346.2,867.5 347.5,872.5 346.2,878.8 345,883.8 340,886.2 338.8,891.2 342.5,895 343.8,900 340,905 335,910 332.5,915 333.8,921.2 337.5,926.2 342.5,929.5 348.8,931.2 345,933 337.5,936.2 330,933.8 322.5,930 317.5,926.2 313.8,920 312,910 311.2,900 313,890 315,880 317,870 318,860 318.8,850 321.2,840 323,830 324.5,820 325.5,810 327,800 328,790 329,780 328.8,802.5 329.5,792.5 328.8,782.5ZM580,458.8 578.8,450 580,441.2 585,435 590,427.5 596.2,420 602.5,412.5 607.5,405 613.8,400 620,395 627.5,390 635,386.2 642.5,384.5 652.5,385 660,387.5 665,391.2 663.8,393.8 658.8,393.8 655,392.5 650,393.8 645,397.5 640,400 633.8,397.5 632,399.5 637.5,403.8 641.2,408.8 642.5,416.2 641.2,420 635,423.8 627.5,430 623.8,435 621.2,441.2 620,447.5 623.8,451.2 626.2,456.2 625,460 621.2,462.5 618.8,467.5 616.2,473.8 610,476.2 606.2,475 602.5,470 600,463.8 599.5,458.8 597.5,455 593.8,458.8 590,462.5 585,462.5ZM622.5,464.2 624.7,463.3 624.2,467.5 622.5,468.3ZM545,460.8 550.8,460 552.5,465 555.8,465.8 554.2,470 552.5,473.3 555.8,475.8 559.2,480.8 561.7,485.8 565,489.2 567.5,491.7 565.8,495.8 561.7,497.5 556.7,498.3 551.7,500 545.8,503 545,501.7 549.2,498.3 552.5,495.8 548.3,494.2 550,490 546.7,487.5 549.2,484.2 546.7,480.8 547.5,476.7 545,472.5 543.3,467.5ZM537.5,479.2 541.7,478.3 543.3,481.7 540,483.7 537.5,482.5ZM570.8,499.2 576.7,495 580.8,490 584.2,487.5 588.3,485.8 591.7,484.2 592,480 596.7,479.7 600,482.5 605,483.7 610,484.7 613.3,481.7 618.3,480.3 623.3,480 628.3,480.8 629.2,482.5 636.7,482.5 640.8,483.7 640.8,487.5 639.2,490.8 640,494.2 640.8,497.5 642.5,500.8 640,504.2 636.7,506.7 636.7,509.2 640,511.7 645,513.3 650,512.5 653.3,510.8 656.7,513.3 659.2,517.5 660.8,520 661.7,522.5 660,523.3 657.5,525 656.7,528.3 655.8,532.5 654.2,536.7 653.3,540 651.7,541.7 648.3,544.2 649.2,546.7 645.8,547.5 642.5,546.7 640,548.3 641.7,550.8 639.2,551.7 640.8,555 642.5,558.3 640,560 636.7,561.7 635,559.2 633.3,556.7 630.8,553.3 628.3,550 626.7,545.8 627.5,542.5 626.7,540 624.2,537.5 621.7,535 618.3,531.7 615,529.2 612.5,525.8 610.8,524.2 608.3,525 605,524.2 603.3,524.2 602.5,526.7 604.2,530 607.5,533.3 610.8,537.5 615,540.8 619.2,544.2 622.5,547.5 621.7,549.2 618.3,548.3 619.2,551.7 616.7,555 615,553.3 615.8,550 613.3,546.7 610,543.3 605.8,540 601.7,536.7 598.3,533.3 595.8,530.8 592.5,530.8 589.2,532.5 586.7,530.8 585.8,527.5 584.2,524.2 585,521.7 584.2,520 583.3,516.7 584.2,513.3 587.5,510 588.3,508.3 583.3,506.7 579.2,504.2 575,501.7ZM640,455.8 645,454.7 650,455 653.3,455.8 654.2,460 653.3,465 655,469.2 653.3,472.5 653.3,474.2 650,475.8 647.5,479.2 644.2,481.7 640.8,483.7 636.7,482.5 633.3,480.8 632.5,477.5 632.5,472.5 633.3,467.5 636.7,465 640,464.2 642.5,466.7 644.2,463.3 642.5,460 639.2,459.2ZM603.3,558.3 608.3,557.5 612.5,556.7 611.7,560.8 609.2,563.3 605,560.8ZM590,545 593.3,544.2 594.2,549.2 593.3,553.3 590.3,553.3ZM640,568.7 645,569.2 648.3,570 645,571 640.8,570.2ZM669.2,569.2 674.2,568.3 675,570 670.8,571.7ZM532.5,535.8 536.7,534.2 543.3,534.2 550,535 557.5,534.2 560,535.8 564.2,537.5 569.2,538.3 571.7,539.2 568.3,541.7 564.2,545.8 561.7,550 560.8,554.2 558.3,557.5 555.8,560.8 550,561.7 546.7,564.2 544.2,565.8 541.7,563.3 540,560 537.5,559.2 538.3,555 539.7,550 540,545 540.8,541.7 535.8,540.8 532.5,539.2ZM570,550 573.3,549.7 573.7,551.7 570.3,552ZM600,322.5 607.5,320 613.8,317.5 618.8,321.2 625,323.8 632.5,328.8 637.5,333.8 641.2,337.5 637.5,340 631.2,336.2 626.2,333.8 622.5,336.2 618.8,343.8 615,342.5 610,337.5 605,332.5 600,330ZM622.5,316.2 630,313.8 640,315 650,316.2 652.5,318.8 646.2,322.5 637.5,323.8 628.8,321.2ZM667,315.5 672.5,315 672.5,317 667.5,317.5ZM980.8,558.7 983.7,558 987,557 990,560 991.3,564.2 990.8,568.3 988.3,570.3 984.7,571.3 981.7,572 980.8,566.7 981.3,562.5ZM962,611.2 965.5,610 966.2,615 963.8,621.2 961.2,618.8ZM896.2,626.2 900,621.2 905,620 911.2,618 916.2,621.2 918.8,626.2 915,628.8 911.2,632.5 915,637.5 918.8,642.5 922.5,648.8 925,655 924.5,661.2 921.2,665 916.2,668.8 912,671.2 910,673.8 909.5,668.8 913.8,665 917.5,661.2 918.8,655 915,652.5 911.2,646.2 910,641.2 905,637.5 898.8,638.8 896.2,632.5ZM878,685.8 882.5,685.8 886.7,688.3 890.8,691.7 895,695.8 899.2,699.2 903.3,703.3 907.5,707.5 910.8,711.7 913,715.8 913.3,721.7 913,726.7 909.2,727 905,724.2 901.7,720 898.3,715.8 895,711.7 890.8,706.7 887.5,700.8 884.2,695.8 880.8,690.8ZM894.2,681.7 897.5,683 900.8,683.7 903,687.5 905.3,692.5 907.5,696.7 909.2,699.7 906.7,700 903.7,697.5 900.8,694.2 898,690 895.3,685.8ZM913,729.2 917.5,728.3 922.5,730 928.3,730.8 933.3,731.7 938.3,733.3 941.7,735.8 939.2,737.5 934.2,736.3 928.3,735 923.3,734.2 918.3,733.3 914.2,731.7ZM943.3,736.3 948.3,737 953.3,736.7 956.7,738.3 952.5,738.7 947.5,738.3ZM957.5,740 961.7,741.7 962.5,743.3 958.3,742ZM960,737 968.3,737 975,736.3 980,735 983.3,735.8 978.3,737.5 971.7,738.3 965,738.3ZM972,742.5 976.7,740 981.7,738 984.2,738.3 980,740.8 975,743.7ZM924.2,700.8 926.7,699.2 930.8,698.3 933.3,695.8 937.5,693.3 941.7,690 945.8,685.8 948.3,681.7 950.8,680 952.5,683.3 955.8,685 956.7,686.7 953.3,688.3 952.5,692.5 953.3,697.5 955.8,701.7 953.3,703.3 951.7,707.5 950,711.7 947.5,716.7 946.7,720 943.3,720.8 940,718.3 935,717.5 930,717 927.5,714.2 926.7,709.2 925,705.8ZM960,704.2 962.5,702 966.7,701.7 971.7,703 975,701.3 976.7,700.3 976.3,703 972.5,705 968.3,704.7 965,705.3 966.7,708.3 970,707.5 971.3,709.2 968.3,710.8 965.8,711.7 967.5,715.8 969.2,720 970,723.3 968,724.2 965.8,720.8 963.7,716.7 962,713.3 960.8,718.3 960.3,725 958.3,725.8 957.5,720 956.7,715.8 958.3,710.8 959.7,707.5ZM985,698.3 987.5,696.7 988.7,699.2 987.5,703.3 988.3,706.7 986.3,708.3 985,705 985.3,701.7ZM980,717.5 984.2,717.2 984.5,719.3 980.3,719.7ZM987.5,717 991.7,716.3 995.3,717.5 994.2,719.2 990,718.7ZM975,711.7 980,711.7 980,713.3 975.3,713.3ZM1006.7,726.7 1008.3,726.7 1008.3,731.7 1006.7,731.3ZM1020,734.2 1023.3,734.3 1023.3,736.7 1020.3,736.7ZM995.8,709.2 999.2,707.5 1003.3,707.5 1006.7,710 1007.5,713.3 1010.8,715 1014.2,713.3 1018.3,711.7 1022.5,712.5 1026.7,714.2 1029.2,715.8 1029.2,738.3 1026.7,737 1024.2,733.3 1021.7,729.2 1019.2,725.8 1015.8,723.3 1012.5,721.7 1009.2,720 1005,718.3 1001.7,715.8 998.3,712.5ZM940,790 943.8,786.2 950,783.8 957.5,781.2 963.8,776.2 967.5,770 973.8,765 978.8,760 983.8,758.8 987.5,761.2 991.2,757.5 993.8,752.5 1000,750 1007.5,750 1013.8,752.5 1015,757.5 1012.5,762.5 1017.5,766.2 1023.8,770 1028,772.5 1030,765 1032,757.5 1033.8,748.8 1035,746.2 1037.5,752.5 1040,760 1043.8,765 1046.2,772.5 1050,778.8 1056.2,785 1060,791.2 1065,796.2 1068.8,801.2 1071.2,808.8 1071.2,817.5 1070,825 1066.2,832.5 1062.5,840 1060,847.5 1057.5,852.5 1052.5,855 1047.5,856.2 1042.5,853.8 1037.5,857 1031.2,853.8 1026.2,850 1022.5,842.5 1020,836.2 1018.8,832.5 1015,838.8 1012.5,835 1010,830 1005,827.5 997.5,827 990,827.5 982.5,830 975,832.5 967.5,835 961.2,836.2 955,839.5 948.8,840 943.8,836.2 946.2,830 945,822.5 942.5,815 940.5,807.5 939.5,800ZM1042,866.2 1047.5,867.5 1053,865.5 1053.8,871.2 1051.2,876.2 1047.5,877.5 1043.8,873ZM680.8,580.8 683.3,580.8 686.7,579.2 690.8,577.5 692,580.8 688.3,582.5 685,584.2 686.7,586.7 687.5,590 684.2,591.7 680.8,593.7 678.3,593 679.2,588.3 680,584.2ZM717.5,591.7 720,590.8 721.7,593.3 720.8,596.7 718.7,595.8ZM730.3,609.2 732,608.3 733,610.8 732,613 730.5,612ZM747.5,613.3 749.2,611.7 751.7,614.2 755,616.7 758.3,619.2 760,621.7 758.3,625 755.8,628.3 753.3,631.7 751.7,634.2 748.3,636.7 745,639.2 740.8,641.7 737.5,643 735.8,639.2 735,635 739.2,631.7 742.5,630 745,626.7 745.8,623.3 745.3,620.8 745.8,616.7ZM747.5,607.5 748.7,606.3 749.3,608.7 748,609.2ZM507.5,645 510.8,643.7 515,644.2 518.3,646.7 520.8,650 522.5,650.8 523.3,655 524.2,659.2 520.8,659.7 516.7,659.2 511.7,659.7 506.7,660 505.8,656.7 506.7,655 511.7,654.7 506.7,653.3 505,650ZM518.3,671.7 520.8,670 523.3,668.3 525.8,669.2 527.5,672.5 526.7,675.8 524.2,679.2 520.8,678.3 518.7,675.3ZM552.5,665.8 556.7,665.3 561.7,665 562.5,670 563.3,675 562.5,670 563.3,676.7 564.2,683.3 560,685.8 555,687.5 552,685 551.7,680 553,673.3 552.5,666.7ZM635.8,755.3 641.3,755 642,748.3 646.7,748 649.2,749.7 653.3,751.3 656.7,754.5 660,756.3 659.7,752.5 657,750.8 657.5,746.7 656.7,742 659.2,737.8 663.3,736.7 667.5,738.3 671.7,740.3 673.3,745 672.5,750 671.7,755.8 670,758.3 666.7,760 662.5,762 658.3,764.2 655,766.7 652.5,770 649.2,772.5 645,773 640.8,772 637,768.3 635.3,763.3ZM601.3,771.3 606.7,771.3 615,772.5 623.3,773 630,773.7 635.8,773.3 640,772 645,773 647.5,776.7 650,780.8 653.3,785 656.7,788.3 658.3,790 654.2,792.5 650.8,795.8 648.3,800 646.7,803.7 642.5,804.2 638.3,803 635,805.8 632.5,808.3 630,806.7 629.7,800.8 628.7,801.7 628.7,810 628,814.2 625,815.8 621.7,815.8 619.2,813.3 616.7,815 613.7,808.3 611.3,801.7 610,793.3 607.5,786.7 604.7,780 602.5,775ZM725,751.7 727.5,755 729.2,760 728.3,765 726.7,768.3 726.7,770 725,776.7 722.5,785 720,793.3 717.5,800 712.5,802.5 708.3,800 706.7,795 705.8,790 707.5,785 710,780 709.2,773.3 710,767.5 710.8,767.5 715,765 719.2,761.7 722.5,757.5ZM502.5,596.3 505.8,595.8 506.2,597.5 503,598ZM507.5,598 510.8,597.5 511.2,599.3 508,599.7ZM515,595 516.7,594.7 517,597.5 515.3,597.7ZM745,785 746.7,784.7 746.8,786.3 745.2,786.5ZM751.7,781.7 753.3,781.3 753.5,783 751.8,783.2Z"/>
<path fill="#EA3426" d="M628.3,479.2 635,478.3 637.5,480 636.7,482.3 629.2,482.3ZM636.7,506.7 640,504.2 642.5,500.8 640.8,497.5 640,494.2 644.2,494.2 650,494.2 656.7,495 663.3,495.8 666.7,494.2 671.7,492.5 675.8,494.2 678.3,497.5 683.3,500.8 688.3,502.5 693.3,505 695,508.3 694.2,512.5 691.7,515 686.7,516.7 682.5,518.3 678.3,520 675,521.7 680,523.3 684.2,525 680,526.7 678.3,529.2 675,527.5 672.5,524.2 670,522.5 666.7,521.7 663.3,520 660.8,520 659.2,517.5 656.7,513.3 653.3,510.8 650,512.5 645,513.3 640,511.7 636.7,509.2ZM658.8,395.5 666.2,393.8 675,395 683.8,397.5 691.2,401.2 696.2,406.2 697.5,411.2 693.8,415 687.5,416.2 680,415 673.8,411.2 670,411.2 672.5,416.2 677.5,420 680,423.8 683.8,427.5 688.8,426.2 692.5,422.5 696.2,418.8 701.2,416.2 706.2,415 708.8,410 707.5,403.8 710,401.2 715,402.5 716.2,407.5 713.8,411.2 720,410 725,406.2 731.2,403.8 737.5,401.2 745,400 752.5,400 758.8,398.8 762.5,393.8 770,393.8 777.5,396.2 783.8,400 788.8,402.5 790,397.5 786.2,392.5 783.8,386.2 786.2,380 791.2,375 792.5,372 800,371.2 803.8,376.2 803.8,385 805,395 806.2,402.5 803.8,408.8 797.5,412.5 792.5,413.8 793.8,415 800,415 806.2,411.2 810,405 808.8,397.5 812.5,400 817.5,402.5 821.2,406.2 820,401.2 816.2,396.2 811.2,393.8 807.5,387.5 808.8,380 812.5,376.2 817.5,377.5 822.5,375 827.5,373.8 832.5,377.5 836.2,382.5 838.8,390 841.2,393.8 840,387.5 837.5,380 833.8,376.2 830,371.2 831.2,367.5 840,366.2 847.5,366.2 852.5,365 851.2,360 855,355 862.5,352.5 870,350 877.5,347.5 885,346.2 892.5,345.5 900,343.8 900,340 907.5,337 913.8,340 920,343.8 930,344.5 937.5,347.5 939.5,352.5 935,357.5 930,358.8 937.5,361.2 936.2,365 945,366.2 953.8,367.5 960,371.2 970,371.2 972.5,366.2 980,366.2 987.5,370 991.2,376.2 993.8,381.2 997.5,386.2 1001.2,380 1007.5,382.5 1015,382.5 1022.5,381.2 1025,376.2 1030,373 1037.5,373.8 1045,375 1050,376.2 1056.2,377.5 1060,381.2 1067.5,385 1077.5,385 1086.2,385.5 1091.2,388.8 1093.8,393.8 1097.5,396.2 1105,394.5 1112.5,395 1120,393.8 1123.8,397.5 1127.5,398.8 1128.8,392.5 1137.5,392.5 1147.5,394.5 1155,397.5 1162.5,401.2 1168.8,405 1173.8,408.8 1177.5,412.5 1182.5,411.2 1187.5,413.8 1191.2,416.2 1187.5,420 1185,425 1180,426.2 1175,422.5 1170,421.2 1165,417.5 1161.2,416.2 1162.5,421.2 1157.5,423.8 1150,423.8 1147.5,425 1152.5,428.8 1156.2,433.8 1157,437.5 1150,436.2 1145,440 1137.5,443.8 1130,447.5 1126.2,451.2 1120,450 1112.5,452.5 1107.5,455 1103.8,460 1100,465 1102.5,472.5 1100,477.5 1095,483.8 1090,490 1085,496.2 1081.2,498.8 1079.5,490 1078.8,480 1080,470 1085,463.8 1092.5,457.5 1098.8,451.2 1103.8,445 1108.8,437 1102.5,440 1097.5,445 1093.8,447.5 1092.5,442.5 1086.2,442.5 1080,447.5 1075,452.5 1072.5,456.2 1065,457 1057.5,455 1047.5,455 1036.2,456.2 1030,461.2 1025,467.5 1020,473.8 1015,477.5 1011.2,480 1016.2,481.2 1018.8,485 1022.5,482.5 1027.5,485 1030,490 1031.2,496.2 1030,502.5 1028.8,508.8 1026.2,515 1022.5,520 1017.5,525 1013.8,528.8 1010,533 1006.2,536.2 1002.5,537 998.8,535 997.5,532.5 1000,528.8 1003.8,523.8 1006.2,518.8 1008.8,512.5 1006.2,511.2 1000,513 993.8,510 987.5,506.2 983.8,501.2 980,495 977.5,490 973.8,486.2 966.2,486.2 961.2,488.8 962.5,493.8 960,500 955,503.8 948.8,505.5 948.8,505.5 942.5,502.5 937.5,503.8 930,507.5 923.8,506.2 917.5,503.8 910,502.5 901.2,501.2 895,496.2 888.8,493.8 886.2,501.2 880,502.5 872.5,500 866.2,500 860,503.8 853.8,507.5 850,506.2 843.8,502.5 837.5,500 830,498.8 825,495 820,488.8 816.2,482.5 812.5,483.8 805,486.2 797.5,483.8 796.2,478.8 790,477.5 780,481.2 770,483.8 763.8,486.2 762.5,493.8 766.2,496.2 765,499.5 760,498.8 751.2,500 742.5,500 733.8,496.2 726.2,497.5 721.2,501.2 717.5,507.5 717.5,512.5 720,520 717.5,526.2 718.8,531.2 721.2,535 723.8,540 723,543.8 720,542.5 713.8,538.8 707.5,536.2 700,533.8 696.2,532.5 691.7,529.2 688.3,525.8 688.3,523.3 691.7,520 690,519.7 693.3,517.5 691.7,515 694.2,512.5 695,508.3 693.3,505 688.3,502.5 683.3,500.8 678.3,497.5 675.8,494.2 671.7,492.5 666.7,494.2 663.3,495.8 665,493.3 667.5,490 670,486.7 667.5,483.3 665,479.2 663.3,475 658.3,473.3 653.3,474.2 653.3,472.5 655,469.2 653.3,465 654.2,460 653.3,455.8 655,452.5 659.2,450.8 655.8,447.5 658.3,443.3 661.7,440 663.8,440 666.2,433.8 662.5,427.5 660,420 661.2,412.5 658.8,405 661.2,398.8 658.8,393.8 663.8,393.8 665,391.2ZM790,342.5 785,342 775,345.5 765,348 756.2,351.2 750,355 746.2,361.2 741.2,367.5 738.8,373.8 733.8,377.5 735,382.5 740,385 746.2,387 751.2,387.5 750,382.5 747.5,377.5 748.8,370 752.5,363.8 757.5,357.5 763.8,353.8 772.5,350.5 782.5,348 790,345.5ZM712.5,312 722.5,310.5 732.5,310 731.2,313.8 723.8,315.5 715,314.5ZM736.2,313.8 745,312 752.5,313.8 751.2,317 742.5,317.5ZM742.5,306.2 750,303.8 758.8,305 760,309.5 750,311.2ZM757.5,310.5 767.5,308.8 777.5,308.8 778,312 770,313.8 760,313.8ZM865,317.5 871.2,308.8 882.5,307.5 885,312.5 891.2,316.2 895,321.2 892.5,326.2 882.5,326.2 875,322.5 870,320ZM892.5,332.5 896.2,327.5 900,325 900,322.5 907.5,325 911.2,328.8 907.5,331.2 900,332ZM721.2,396.2 726.2,395 728,397.5 723.8,399.5ZM1016.2,351.2 1021.2,347.5 1028.8,349.5 1036.2,350 1043,352.5 1040,356.2 1032.5,357 1025,358 1018.8,356.2ZM1047.5,353 1055,353.8 1062,355.5 1057.5,358 1050,356.2ZM1027.5,366.2 1033.8,365 1038,367.5 1032.5,369.5ZM1155,383 1161.2,381.2 1167,382.5 1162.5,385 1156.2,385.5ZM1034.2,483.3 1035.8,482.5 1037,488.3 1038.3,495.8 1040,503.3 1040.8,507.5 1038.3,508.7 1037.5,511.7 1038,517.5 1036.7,521.3 1034.2,520 1033.3,515 1034.2,510 1033,504.2 1032.5,497.5 1032.5,490.8 1033.3,485.8ZM763.8,570 770,567.5 777.5,562.5 785,561.2 792.5,558.8 797.5,556.2 799.5,560 797.5,565 795,570 796.2,575 792.5,578.8 790,583.8 785,585 782.5,591.2 775,592.5 766.2,591.2 765,582.5 763.8,576.2ZM1075.8,500.8 1079.7,499 1080.3,500 1076.7,502ZM1064.2,517.5 1067.5,516.2 1068,517.2 1064.7,518.7ZM1056.7,524.2 1060.8,522 1061.3,523 1057.2,525.3ZM1050,527.5 1055,525.7 1055.3,526.7 1050.5,528.7ZM681.7,567.5 686.7,565 693.3,563.3 700,561.7 701.7,565 699.2,569.2 697.5,572.5 694.2,574.2 690,576.7 686.7,579.2 683.3,580.8 680.8,579.2 681.7,575 680.8,570.8ZM700,561.7 705,560.8 710,562.5 712.5,567.5 713.3,572.5 715.8,576.7 719.2,581.7 720.8,585.8 721.7,589.2 718.3,590.8 715.8,593.3 711.7,592.5 706.7,589.2 701.7,585.8 696.7,583.3 692.5,581.7 690.8,577.5 694.2,574.2 697.5,572.5 699.2,569.2 701.7,565ZM704.2,643.3 705.8,641.3 710,640 715,638.3 720,636.7 725,635.8 730,635 735,635 735.8,639.2 737.5,643 735,645 730.8,648.3 725.8,650.8 720,653.3 715,655.8 710.8,657.5 706.7,658.7 705,655 704.2,649.2ZM739.2,659 741.7,658.8 741.8,660 739.3,660.2ZM540.8,611.7 546.7,613.3 553.3,618.3 560,623.3 566.7,627.5 572.5,631.3 575.8,634.2 575.8,640 575,645 571.7,647.5 566.7,648.3 561.7,649.2 558.3,650.8 555,653.3 551.7,655.8 548.3,656.7 545.8,660 545,664.2 541.7,665.8 538.3,666.7 535,665 534.2,660.8 531.7,660 528.3,659.2 525,657.5 523.3,655 522.5,650.8 523.3,648.3 530,649.2 536.7,648.3 543.7,648 543.7,644.2 543,636.7 542,628.3 541.3,620ZM645,623.3 675,623.3 677.5,622.5 680,619.2 683.3,621.7 685,626.7 685.8,633.3 688.3,638.3 685,641.7 684.2,648.3 683.3,653.3 681.7,658.3 679.2,662.5 677.5,666.7 675,670 673.3,665 675.8,669.2 674.2,673.3 673.3,675.8 675.8,679.2 679.2,683.3 680.8,687.5 676.7,689.2 671.7,690 666.7,691.7 664.2,695.8 663.3,701.7 661.7,706.7 659.7,711.7 658.7,716.7 659.7,721.7 660.3,726.7 661.7,731.7 663,735.8 659.2,737.5 656.7,741.7 657.5,746.7 656.7,750.8 659.2,753.3 660,755.8 656.7,754.2 653.3,750.8 649.2,749.2 646.7,747.5 642.5,748.3 638.3,746.7 635.8,742.5 634.2,736.7 632.5,732.5 627.5,732 623.3,735 620,734.2 618.3,729.2 616.7,727.5 611.7,726.7 605.8,727.5 604.2,726.7 609.2,724.2 611.7,722.5 615,718.3 616.7,713.3 618.3,708.3 620.8,703.3 622.5,698.3 623.3,693 616.7,693.3 615.8,695 613.3,691.7 610.8,688.3 611.7,685 613.3,681.7 616.7,678.3 621.7,676.7 626.7,675.8 631.7,671.7 635.8,667.5 638.3,666.7 639.2,666.7 637.5,661.7 635.8,656.7 636.7,651.7 639.2,648.3 640.8,645 641.3,638.3 641.7,631.3 645,630.8ZM705.8,665 710,664.2 716.7,663.3 723.3,662.5 730,661.7 731.7,663.3 730.8,668.3 729.2,673.3 730,671.7 726.7,678.3 722.5,685 717.5,691.7 711.7,698.3 706.7,704.2 702.5,709.2 700,710.8 698.3,706.7 698.3,700 699.2,695 701.7,691.7 706.7,687.5 711.7,685 716.7,680 720.8,675.8 715,672.5 710,670 705.8,667.5 704.2,665.8Z"/>
<path fill="#0F6A5D" d="M603.3,502.5 606.7,500.3 610.8,500 615,501.7 620,503 624.2,505 621.7,507.5 618.3,508.3 615,509.7 610.8,509.2 607.5,507.5 605,505.8ZM600,515 604.2,514.2 606.7,511.7 611.7,510 616.7,510.8 618.3,513.3 616.7,516.7 615,519.2 610.8,520 606.7,519.7 603.3,517.5 600,518ZM583.3,517.5 585.8,515.8 590,515 594.2,515.3 596.7,516.7 600,515 600,518 595.8,519.7 591.7,520.8 587.5,521.7 584.2,520.8ZM606.7,520 610.8,520.3 615,519.7 617.5,521.7 621.7,522.5 625,524.2 624.2,525.8 620,525.3 616.7,525.8 614.2,527.5 615.8,530.8 618.3,533.3 620.8,535.8 619.7,536.7 616.7,534.2 613.3,530.8 611.3,527.5 609.2,525 606.7,523.3Z"/>
<path fill="#FFD500" d="M625,522.5 628.3,521.7 630.8,524.2 633.3,526.7 635,530 637.5,533.3 638.3,536.7 635.8,538.3 633.3,540 630,539.2 629.2,535.8 627.5,533.3 625.8,530 625,526.7ZM664.2,805 666.7,803.7 668.7,805.8 668.3,809.2 665.8,810.3 664.2,808.3ZM652.5,817.5 655.8,815 659.2,815.8 660,819.2 657.5,822 654.2,823 652,820.3Z"/>
<path fill="#00BEAF" d="M853.8,507.5 860,503.8 866.2,500 872.5,500 880,502.5 886.2,501.2 888.8,493.8 895,496.2 901.2,501.2 910,502.5 917.5,503.8 923.8,506.2 930,507.5 937.5,503.8 942.5,502.5 948.8,505.5 946.2,510 950,513.8 956.2,513.8 959.5,517.5 952.5,521.2 945,523.8 937.5,526.2 932.5,530 927.5,535 920,537.5 910,540 902.5,538.8 895,537 887.5,536.2 881.2,533.8 877.5,528.8 871.2,526.2 865,523.8 862.5,517.5 860,512.5ZM857.5,600 861.2,598 866.2,599.5 867.5,603 862.5,604.2 858,603.8Z"/>
<path fill="#FF8345" d="M659.7,716.3 664.2,715.8 664.7,720.3 660.3,721.3Z"/>
<path fill="#0F6A5D" d="M906.2,698.7 907.8,698 909.5,698.7 909.8,700.3 908.7,701.7 907,701.7 905.8,700.5Z"/>
<path fill="#D2D2D2" d="M941.7,688.3 943.7,688 943.7,690.3 941.7,690.5Z"/>
<path fill="#F5F8FC" d="M257.5,517.5 263.8,512.5 271.2,508.8 276.2,511.2 281.2,517.5 282.5,520.5 275,520 267.5,518.8 261.2,520ZM271.2,526.2 275,523.8 277.5,527.5 276.2,535 275,542.5 271.2,541.2 270.5,533.8ZM282.5,522.5 288.8,521.2 295,525 297.5,530 293.8,533.8 288.8,535 287.5,528.8 283.8,526.2ZM286.2,542 292.5,538.8 300,536.2 298.8,538.8 292.5,542.5ZM301.2,532.5 308.8,530.5 309.5,533 302.5,535ZM233.8,486.2 237.5,477.5 239.5,480 237.5,487.5 240,493.8 242,501.2 239.5,500 236.2,493.8ZM246.2,506.2 249.5,505.5 250,508.8 247,508.8ZM147.5,416.2 155,413.8 162.5,411.2 170,413.8 172.5,417.5 165,420 160,423.8 155,422.5 152.5,418.8ZM175,435 178.8,438.8 185,440 192.5,436.2 200,435.5 195,440 187.5,443.8 180,447 173.8,445 176.2,441.2ZM330,764.5 332.5,765 333,768 330.5,767ZM322.5,666.2 325.5,665.5 326.2,671.2 323,671.2ZM755,525 758.8,520.5 763.8,519.5 766.2,522.5 765,528.8 761.2,532.5 756.2,531.2ZM805,523.8 808.8,520 816.2,518.8 825,519.5 823.8,521.2 816.2,521.2 810,523.8 806.2,526.2ZM606.3,653.3 608.3,652.5 610.8,656.7 609.2,659.2 607,656.7ZM668.3,706.7 671.7,705 675,705.3 675.8,709.2 674.2,713.3 670.8,715 668,713.3 667.5,710ZM673.3,741.7 674.7,742 675.3,748.3 676.3,753.3 677.7,758.3 677,759.3 675.3,755 674,749.2ZM659.3,725 660.3,724.7 661.7,730 663,735.3 662,735.8 660.3,730.8Z"/>
<path fill="none" stroke="#ffffff" stroke-opacity="0.45" stroke-width="0.6" stroke-linejoin="round" d="M747.5,543.3 747.5,526.7 755.8,525M766.7,530.8 775,532.5 780.8,537.5 785,542.5 790,541.7 795,537.5 800,540 806.7,535 813.3,535.8 821.7,535.8 829.2,534.2 828.3,529.2 833.3,525 837.5,521.7 838.3,516.7 844.2,515.8 848.3,511.7 850,507.5M747.5,543.3 753.3,540 758.3,537.5 761.7,540 766.7,545 770,550 776.7,553.3 781.7,556.7 786.7,557.5M829.2,534.2 826.7,540 820,543.3 813.3,547.5 809.2,550 807.5,555 810,559.2M786.7,551.7 793.3,548.3 800,546.7 806.7,545 813.3,547.5M786.7,557.5 786.7,551.7 790,547.5 795,544.2 800,540M820,568.3 824.2,566.7 826.7,570 824.2,575 823.3,580 826.7,586.7 830,590 836.7,594.2 843.3,598.3 850,600 856.7,600M828.3,593.3 830,597.5 836.7,600 845,602.5 853.3,604.2 855,601.7M867.5,601.7 873.3,597.5 880,594.2 884.2,598.3M855,606.7 856.7,613.3 858.3,620 863.3,621.7 866.7,616.7 865,610 861.7,606.7 855,606.7M556.7,568.7 557.5,573.3 558.3,580.8 551.7,583.3 547.5,587.5 540,591.7 534.2,595 533.7,601.7M519.2,601.3 533.7,601.7 533.7,606.7 523.3,607.5 522.5,616.7 518.3,619.2 518,625 506.7,625.8M533.7,602.5 540.8,611.7M590,562.5 589.2,568.3 587.5,575 591.7,581.7 595.8,582.5M601.3,617.5 612.5,618.3 641.7,631.3M612.5,618.3 614.2,633.3 611.7,645 606.7,651.7M571.7,660.8 573.3,656.7 576.7,655 581.7,655 586.7,655.8 591.7,657.5 596.7,656.7 601.7,655.8 605.8,655 609.2,657.5 610.8,661.7 608.3,666.7 605.8,671.7 603.3,676.7M561.7,649.2 564.2,653.3 566.7,656.7 569.2,659.2 571.7,660.8M640.8,670 645,671.7 650,669.2 655,670 660,670.8 665,669.2 667.5,665 670,661.7 672.5,665 675,670M616.7,693.3 623.3,693 624.2,689.2 628.3,688.3 633.3,690 638.3,689.2 643.3,686.7 648.3,686.3 653.3,686.7 658.3,690 662.5,690.8 666.7,691.7M638.3,666.7 640.8,670.8 644.2,675 648.3,679.2 651.7,683.3 653.3,686.7M676.7,710.8 681.7,714.2 687.5,718.3 692.5,721.7M680.8,690 682.5,692.5 681.7,696.7 680,701.7 677.5,705M681.7,750 686.7,748.3 691.7,746.7 696.7,745.3M669.2,767.5 671.7,770.8 671.7,776.7 670.8,783.3 668.3,787.5M631.7,775.3 631.3,781.7 630.8,788.3 628.3,789.2 628.3,800M594.2,698.7 599.2,699.2 600,702.5 605.8,699.2 610,700 610.8,704.2 609.2,708.3 610.8,711.7 610,715.8 606.7,718.3 603.3,719.2M322.5,670 321.2,677.5 327.5,681.2 336.2,682.5 337.5,691.2 336.2,700 330,701.2 331.2,706.2 330,721.2M336.2,700 340,702.5 347.5,700 350,693.8 347.5,691.2 355,690 360,687.5M295,720 300,723.8 305,720 310,713.8 313.8,710M332.5,748.8 332.5,757.5 333.8,765 330,770 331.2,773.8M355,782.5 360,780 367.5,780 371.2,777.5M331.2,777.5 333.8,785 337.5,792.5 336.2,792.5 335,805 331.2,817.5 328.8,830 327,842.5 325,855 323.8,867.5 322.5,880 323.8,892.5 325,905 327.5,916.2 333.8,921.2M371.2,822.5 370,830 370,840M641.2,408.8 632.5,410 625,416.2 620,422.5 615,430 610,437.5 605,445 602.5,452.5 600,460M610,484.7 610.8,490 610,495 611.7,500M584.2,513.3 591.7,510 598.3,508.3 603.3,502.5M620,503 626.7,503.3 633.3,504.2 636.7,506.7M618.3,508.3 623.3,510 630,510.8 636.7,509.2M618.3,513.3 625,515 630,517.5 636.7,513.3M626.7,540 633.3,540 640,538.3 646.7,537.5 653.3,540M630,517.5 635,523.3 640,526.7 646.7,527.5 653.3,526.7 657.5,525"/>
</g>
<rect x="722.6" y="598.4" width="9.4" height="10.2" fill="#f7e463" stroke="#fffbe0" stroke-width="0.6"/>
</svg>
<svg id="over" viewBox="0 0 1200 1400">
<path d="M467,874.600H436V1154.700H722V874.600H691" fill="none" stroke="#55657e" stroke-width="1.400"/>
<path d="M750,874.600H736V1154.700H1023.5V874.600H1009" fill="none" stroke="#55657e" stroke-width="1.400"/>
<g transform="translate(607.9,898.9)"><clipPath id="c628_919"><circle cx="20.5" cy="20.5" r="20.4"/></clipPath><g clip-path="url(#c628_919)"><rect width="41" height="41" fill="#1fb0cc"/><rect x="2.8" y="0" width="5.2" height="41" fill="#f6c61c"/><path d="M2.800,5h5.200M2.800,9h5.200M2.800,13h5.200M2.800,17h5.200M2.800,21h5.200M2.800,25h5.200M2.800,29h5.200M2.800,33h5.200M2.800,37h5.200" stroke="#1fb0cc" stroke-width="0.7" opacity="0.7"/><circle cx="24.2" cy="16.6" r="6" fill="#f6c61c" opacity="0.5"/><circle cx="24.2" cy="16.6" r="4" fill="#fcc612"/><path d="M12,18.800c1.800,2 3.800,3.200 6,3.600c1.500,1.800 3.500,2.700 6.200,2.700c2.700,0 4.700,-0.900 6.200,-2.700c2.200,-0.400 4.200,-1.600 6,-3.600c0,4.200 -1.600,7.200 -4.600,8.800c-1.400,1.300 -3,2.200 -5,2.500l-1.200,1.500h-2.800l-1.200,-1.500c-2,-0.300 -3.600,-1.200 -5,-2.500c-3,-1.600 -4.600,-4.600 -4.600,-8.800z" fill="#f6c61c"/></g><circle cx="20.5" cy="20.5" r="20.4" fill="none" stroke="#3c3c3c" stroke-width="0.7"/></g>
<g transform="translate(607.9,948.9)"><clipPath id="c628_969"><circle cx="20.5" cy="20.5" r="20.4"/></clipPath><g clip-path="url(#c628_969)"><rect width="41" height="41" fill="#db161b"/><rect x="20.2" y="0" width="21" height="13.6" fill="#fff"/><rect x="20.2" y="27.2" width="21" height="14" fill="#078930"/><path d="M8.500,6.500l3,2.500m0,-2.500l-3,2.500m4.500,-2l2.500,1.500" stroke="#fff" stroke-width="0.7" opacity="0.8"/></g><circle cx="20.5" cy="20.5" r="20.4" fill="none" stroke="#3c3c3c" stroke-width="0.7"/></g>
<g transform="translate(607.9,998.9)"><clipPath id="c628_1019"><circle cx="20.5" cy="20.5" r="20.4"/></clipPath><g clip-path="url(#c628_1019)"><rect width="41" height="41" fill="#fff"/><rect width="13.4" height="41" fill="#f77f00"/><rect x="27.2" width="14" height="41" fill="#0b9e60"/></g><circle cx="20.5" cy="20.5" r="20.4" fill="none" stroke="#3c3c3c" stroke-width="0.7"/></g>
<g transform="translate(607.9,1048.9)"><clipPath id="c628_1069"><circle cx="20.5" cy="20.5" r="20.4"/></clipPath><g clip-path="url(#c628_1069)"><rect width="41" height="41" fill="#ef3340"/><rect width="41" height="13.6" fill="#1ab4e3"/><rect y="27" width="41" height="14" fill="#509e2f"/><circle cx="18.6" cy="20.4" r="5.200" fill="#fff"/><circle cx="20" cy="20.4" r="4.200" fill="#ef3340"/><path d="M26.400,17.900l0.600,1.500l1.500,-0.600l-0.600,1.500l1.500,0.600l-1.500,0.600l0.600,1.500l-1.500,-0.600l-0.600,1.500l-0.600,-1.500l-1.500,0.600l0.600,-1.500l-1.500,-0.600l1.500,-0.600l-0.600,-1.500l1.500,0.600z" fill="#fff"/></g><circle cx="20.5" cy="20.5" r="20.4" fill="none" stroke="#3c3c3c" stroke-width="0.7"/></g>
<g transform="translate(607.9,1098.9)"><clipPath id="c628_1119"><circle cx="20.5" cy="20.5" r="20.4"/></clipPath><g clip-path="url(#c628_1119)"><rect width="41" height="41" fill="#fff"/><rect width="41" height="6.800" fill="#a51931"/><rect y="34.200" width="41" height="7" fill="#a51931"/><rect y="13.700" width="41" height="13.500" fill="#2d2a4a"/></g><circle cx="20.5" cy="20.5" r="20.4" fill="none" stroke="#3c3c3c" stroke-width="0.7"/></g>
<g transform="translate(901.1,898.9)"><clipPath id="c921_919"><circle cx="20.5" cy="20.5" r="20.4"/></clipPath><g clip-path="url(#c921_919)"><rect width="41" height="41" fill="#ffdd00"/><rect y="20.300" width="41" height="10.300" fill="#0b4ea2"/><rect y="30.600" width="41" height="11" fill="#ee1c25"/><path d="M12.500,10.500c2.500,-1 5,0 8,1.500c3,-1.500 5.500,-2.500 8,-1.500c-1.500,1.500 -3,2.500 -4.500,3c1.500,0.500 3,2 3.500,3.500l-1,7c0.800,1 0.800,3 0,4.500l-3,-0.500l-3,2.500l-3,-2.500l-3,0.500c-0.800,-1.500 -0.800,-3.500 0,-4.500l-1,-7c0.500,-1.500 2,-3 3.500,-3.500c-1.500,-0.500 -3,-1.500 -4.500,-3z" fill="#2b2a20"/><ellipse cx="20.500" cy="20.500" rx="3.300" ry="4.300" fill="#5b9aa8"/><path d="M17.500,22.500c2,-1 4,-1 6,0c-0.500,1.500 -1.500,2.300 -3,2.300c-1.500,0 -2.500,-0.800 -3,-2.300z" fill="#4a8a3c"/></g><circle cx="20.5" cy="20.5" r="20.4" fill="none" stroke="#3c3c3c" stroke-width="0.7"/></g>
<g transform="translate(901.1,948.9)"><clipPath id="c921_969"><circle cx="20.5" cy="20.5" r="20.4"/></clipPath><g clip-path="url(#c921_969)"><rect width="41" height="41" fill="#fff"/><rect width="41" height="13.600" fill="#3e9a00"/><rect y="27.200" width="41" height="14" fill="#e32118"/><path d="M0,0L10.500,20.500L0,41z" fill="#0073ce"/><path d="M17,14.500h8.500M18.500,16.500c1.500,-1.500 4,-1.500 5.500,0l-1,1.500h-3.500zM21.200,17v8M17.200,19.500c0,3.500 1.500,5.500 4,6c2.500,-0.500 4,-2.500 4,-6" fill="none" stroke="#3c4a3c" stroke-width="1.100"/></g><circle cx="20.5" cy="20.5" r="20.4" fill="none" stroke="#3c3c3c" stroke-width="0.7"/></g>
<g transform="translate(901.1,998.9)"><clipPath id="c921_1019"><circle cx="20.5" cy="20.5" r="20.4"/></clipPath><g clip-path="url(#c921_1019)"><rect width="41" height="41" fill="#ffbe29"/><rect x="0" y="2.800" width="8.800" height="35.400" fill="#ff7a00"/><rect x="11.800" y="2.800" width="30" height="35.400" fill="#8d153a"/><path d="M22.800,8.500c0.800,0 1.200,0.800 1,2l-0.300,9.500h1.300v1.300h-1.300l0.200,4.200h-1.800l0.200,-4.200h-1.300v-1.300h1.300l-0.300,-9.500c-0.200,-1.200 0.200,-2 1,-2z" fill="#ffbe29"/><path d="M27.500,11c2.500,-1.500 6.500,-2 9.500,-0.500c2,1.500 2.500,4 1.500,6.500l-2,2.500c1.500,1 2.500,3 2.500,5.500l-1.500,6.500h-2.500l0.800,-5l-3,-2.500h-2.500l-1.500,4.500l-1.500,1h-2.500l1.500,-2.500l1,-6l3,-2.500c-2,-0.500 -3,-1.500 -3.500,-3.500l2.500,-0.500c-1,-1 -1.500,-2 -1.800,-3.500z" fill="#ffbe29"/><path d="M13.300,5.500l2.200,1.200l-0.300,2.300l-1.900,0.500zM13.300,35.500l2.200,-1.200l-0.300,-2.300l-1.900,-0.500z" fill="#ffbe29"/></g><circle cx="20.5" cy="20.5" r="20.4" fill="none" stroke="#3c3c3c" stroke-width="0.7"/></g>
<g transform="translate(901.1,1048.9)"><clipPath id="c921_1069"><circle cx="20.5" cy="20.5" r="20.4"/></clipPath><g clip-path="url(#c921_1069)"><rect width="41" height="41" fill="#d21034"/><rect width="41" height="20.500" fill="#00209f"/><rect x="13.800" y="15.200" width="13.400" height="10.700" fill="#fff"/><path d="M15.500,25h10v0.900h-10z" fill="#0a7a2e"/><path d="M20.500,16l2.800,2.500l-1,0.600l2.500,3l-1.300,0.300l1.200,2.300h-8.400l1.200,-2.300l-1.300,-0.300l2.500,-3l-1,-0.600z" fill="#20264a"/><path d="M17.500,23.500h6v1.300h-6z" fill="#d21034"/></g><circle cx="20.5" cy="20.5" r="20.4" fill="none" stroke="#3c3c3c" stroke-width="0.7"/></g>
<g transform="translate(901.1,1098.9)"><clipPath id="c921_1119"><circle cx="20.5" cy="20.5" r="20.4"/></clipPath><g clip-path="url(#c921_1119)"><rect width="41" height="41" fill="#3e5eb9"/><rect y="7.200" width="41" height="26.600" fill="#ffd900"/><rect y="10.300" width="41" height="20.400" fill="#b10c0c"/><path d="M2.500,17.500h36M2.500,23.500h36" stroke="#8a6a3a" stroke-width="0.800"/><path d="M9.500,20.500c3,-5 7,-7 11,-7c4,0 8,2 11,7c-3,5 -7,7 -11,7c-4,0 -8,-2 -11,-7z" fill="#111"/><path d="M20.500,13.500c4,0 8,2 11,7c-3,5 -7,7 -11,7z" fill="#fff"/><path d="M14.500,18h4v1.800h-4zM14.500,21.200h4v1.800h-4z" fill="#fff"/><path d="M22.500,18h4v1.800h-4zM22.500,21.200h4v1.800h-4z" fill="#111"/><circle cx="4.500" cy="21.500" r="1.500" fill="#3e5eb9"/><circle cx="37" cy="21.500" r="1.500" fill="#3e5eb9"/></g><circle cx="20.5" cy="20.5" r="20.4" fill="none" stroke="#3c3c3c" stroke-width="0.7"/></g>
<circle cx="65.2" cy="1335" r="26.700" fill="none" stroke="#c3ced8" stroke-width="5"/>
<circle cx="137.2" cy="1335" r="26.700" fill="none" stroke="#c3ced8" stroke-width="5"/>
<circle cx="209.4" cy="1335" r="26.700" fill="none" stroke="#c3ced8" stroke-width="5"/>
<circle cx="137.200" cy="1319.600" r="4.400" fill="#c3ced8"/>
<path d="M129.200,1325.600h16v14h-3.500v14.400h-9v-14.400h-3.500z" fill="#c3ced8"/>
<path d="M199,1328h21.600v4.600h-21.600zM199,1338h21.600v4.600h-21.600z" fill="#c3ced8"/>
<rect x="1105.200" y="1305" width="58.300" height="58.700" rx="2" fill="#0f2741"/>
<path d="M1105.200,1342.300C1116,1342.300 1120.500,1336.500 1127.700,1325.800C1134,1316.500 1140,1311 1163.500,1310.600V1324.400C1150,1325 1144,1329 1136,1336.800C1128,1346.500 1120,1356 1105.200,1356z" fill="#f5f8fc"/>
</svg>
<div id="bar"></div>
<div class="sq" style="left:314px;background:#ea3426"></div>
<div class="sq" style="left:361.2px;background:#ff8345"></div>
<div class="sq" style="left:408.5px;background:#ffd500"></div>
<div class="sq" style="left:455.7px;background:#00beaf"></div>
<div class="sq" style="left:503px;background:#0f6a5d"></div>
<div class="sq" style="left:812.3px;top:245.5px;background:#d2d2d2"></div>
<div id="title" class="abs" style="left:81.00px;top:64.40px;font-size:71px;font-weight:bold;color:#0f2741;transform:scaleX(0.9476)">The State Of Global Peace In 2023</div>
<div id="subtitle" class="abs" style="left:79.95px;top:157.99px;font-size:39px;font-weight:normal;color:#475f7e;transform:scaleX(1.0511)">Countries and territories by peace level in 2023</div>
<div id="l1" class="abs" style="left:67.03px;top:239.53px;font-size:36px;font-weight:normal;color:#0f2741;transform:scaleX(0.9865)">Least Peaceful</div>
<div id="l2" class="abs" style="left:542.98px;top:239.53px;font-size:36px;font-weight:normal;color:#0f2741;transform:scaleX(1.0084)">Most Peaceful</div>
<div id="l3" class="abs" style="left:851.98px;top:239.53px;font-size:36px;font-weight:normal;color:#0f2741;transform:scaleX(1.0103)">No data available</div>
<div id="bt1" class="abs" style="left:476.97px;top:859.30px;font-size:28px;font-weight:bold;color:#0f2741;transform:scaleX(1.0252)">Most improved</div>
<div id="bt2" class="abs" style="left:757.66px;top:859.30px;font-size:28px;font-weight:bold;color:#0f2741;transform:scaleX(1.0420)">Most deteriorated</div>
<div id="n1" class="abs" style="left:464.73px;top:905.49px;font-size:26px;font-weight:normal;color:#0f2741;transform:scaleX(0.9864)">Kazakhstan</div>
<div id="n2" class="abs" style="left:526.99px;top:955.49px;font-size:26px;font-weight:normal;color:#0f2741;transform:scaleX(1.0140)">Oman</div>
<div id="n3" class="abs" style="left:453.71px;top:1005.49px;font-size:26px;font-weight:normal;color:#0f2741;transform:scaleX(0.9869)">Cote d’Ivoire</div>
<div id="n4" class="abs" style="left:476.50px;top:1055.49px;font-size:26px;font-weight:normal;color:#0f2741;transform:scaleX(0.9951)">Azerbaijan</div>
<div id="n5" class="abs" style="left:499.50px;top:1105.49px;font-size:26px;font-weight:normal;color:#0f2741;transform:scaleX(0.9952)">Thailand</div>
<div id="v1" class="abs" style="left:657.07px;top:904.64px;font-size:27px;font-weight:bold;color:#7ac200;transform:scaleX(0.9267)">+21</div>
<div id="v2" class="abs" style="left:657.07px;top:954.64px;font-size:27px;font-weight:bold;color:#7ac200;transform:scaleX(0.9267)">+18</div>
<div id="v3" class="abs" style="left:657.07px;top:1004.64px;font-size:27px;font-weight:bold;color:#7ac200;transform:scaleX(0.9267)">+18</div>
<div id="v4" class="abs" style="left:657.07px;top:1054.64px;font-size:27px;font-weight:bold;color:#7ac200;transform:scaleX(0.9267)">+15</div>
<div id="v5" class="abs" style="left:657.07px;top:1104.64px;font-size:27px;font-weight:bold;color:#7ac200;transform:scaleX(0.9267)">+14</div>
<div id="m1" class="abs" style="left:794.84px;top:905.49px;font-size:26px;font-weight:normal;color:#0f2741;transform:scaleX(0.9792)">Ecuador</div>
<div id="m2" class="abs" style="left:765.29px;top:955.49px;font-size:26px;font-weight:normal;color:#0f2741;transform:scaleX(0.9547)">Eq. Guinea</div>
<div id="m3" class="abs" style="left:784.75px;top:1005.49px;font-size:26px;font-weight:normal;color:#0f2741;transform:scaleX(0.9536)">Sri Lanka</div>
<div id="m4" class="abs" style="left:836.72px;top:1055.49px;font-size:26px;font-weight:normal;color:#0f2741;transform:scaleX(1.0399)">Haiti</div>
<div id="m5" class="abs" style="left:794.51px;top:1105.49px;font-size:26px;font-weight:normal;color:#0f2741;transform:scaleX(0.9943)">Eswatini</div>
<div id="w1" class="abs" style="left:951.58px;top:904.64px;font-size:27px;font-weight:bold;color:#c0281c;transform:scaleX(0.9209)">-24</div>
<div id="w2" class="abs" style="left:951.58px;top:954.64px;font-size:27px;font-weight:bold;color:#c0281c;transform:scaleX(0.9209)">-19</div>
<div id="w3" class="abs" style="left:951.58px;top:1004.64px;font-size:27px;font-weight:bold;color:#c0281c;transform:scaleX(0.9209)">-18</div>
<div id="w4" class="abs" style="left:951.55px;top:1054.64px;font-size:27px;font-weight:bold;color:#c0281c;transform:scaleX(0.9458)">-17</div>
<div id="w5" class="abs" style="left:951.55px;top:1104.64px;font-size:27px;font-weight:bold;color:#c0281c;transform:scaleX(0.9458)">-17</div>
<div id="f1" class="abs" style="left:35.26px;top:1195.45px;font-size:29px;font-weight:normal;color:#475f7e;transform:scaleX(1.1196)">Most improved/most deteriorated in ranks</div>
<div id="f2" class="abs" style="left:36.43px;top:1237.45px;font-size:29px;font-weight:normal;color:#475f7e;transform:scaleX(1.0661)">Source: Global Peace Index/Institute for Economics and Peace</div>
<div id="cc" class="abs" style="left:47.71px;top:1314.77px;font-size:35px;font-weight:bold;color:#c3ced8;transform:scaleX(0.8915)">cc</div>
<div id="logo" class="abs" style="left:864.00px;top:1291.25px;font-size:85px;font-weight:bold;color:#0f2741;transform:scaleX(0.7491)">statista</div>
</body>
</html>
